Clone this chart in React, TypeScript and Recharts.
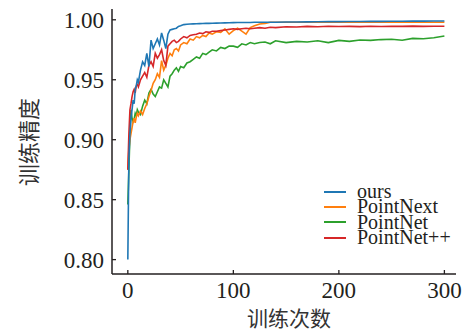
import { LineChart, Line, XAxis, YAxis } from "recharts";

const EPOCHS = [
  0, 1, 2, 3, 4, 5, 6, 7, 8, 9, 10, 12, 14, 16, 18, 20, 22, 24, 26, 28, 30, 32, 34, 36, 38, 40, 42, 44, 46, 48, 50,
  53, 56, 59, 62, 65, 68, 71, 74, 77, 80, 84, 88, 92, 96, 100, 104, 108, 112, 116, 120, 125, 130, 135, 140, 150,
  160, 170, 180, 190, 200, 210, 220, 230, 240, 250, 260, 270, 280, 290, 300,
];

const OURS = [
  0.8, 0.885, 0.905, 0.918, 0.925, 0.933, 0.93, 0.942, 0.945, 0.95, 0.948, 0.958, 0.965, 0.962, 0.972, 0.961, 0.983,
  0.976, 0.98, 0.984, 0.979, 0.989, 0.983, 0.976, 0.988, 0.9915, 0.992, 0.9925, 0.993, 0.9945, 0.995, 0.996, 0.9963,
  0.9965, 0.9966, 0.9967, 0.9968, 0.9969, 0.997, 0.997, 0.9971, 0.9972, 0.9973, 0.9974, 0.9975, 0.9976, 0.9977,
  0.9977, 0.9978, 0.9978, 0.9979, 0.9979, 0.998, 0.998, 0.998, 0.9981, 0.9982, 0.9983, 0.9984, 0.9985, 0.9985,
  0.9986, 0.9986, 0.9987, 0.9987, 0.9988, 0.9988, 0.9989, 0.9989, 0.999, 0.999,
];

const POINT_NEXT = [
  0.875, 0.892, 0.9, 0.905, 0.91, 0.915, 0.918, 0.914, 0.919, 0.922, 0.92, 0.924, 0.921, 0.926, 0.93, 0.936, 0.941,
  0.947, 0.95, 0.955, 0.952, 0.966, 0.958, 0.962, 0.968, 0.972, 0.97, 0.975, 0.976, 0.974, 0.979, 0.981, 0.98, 0.984,
  0.983, 0.986, 0.985, 0.987, 0.986, 0.989, 0.988, 0.99, 0.9895, 0.9925, 0.988, 0.991, 0.993, 0.9905, 0.988, 0.9935,
  0.995, 0.9965, 0.997, 0.998, 0.998, 0.998, 0.998, 0.998, 0.998, 0.998, 0.998, 0.998, 0.998, 0.998, 0.998, 0.998,
  0.998, 0.998, 0.998, 0.998, 0.998,
];

const POINT_NET = [
  0.846, 0.875, 0.905, 0.925, 0.918, 0.915, 0.917, 0.922, 0.92, 0.925, 0.923, 0.921, 0.928, 0.933, 0.93, 0.939, 0.942,
  0.938, 0.936, 0.94, 0.944, 0.943, 0.95, 0.947, 0.944, 0.953, 0.955, 0.958, 0.96, 0.957, 0.961, 0.96, 0.964, 0.965,
  0.967, 0.969, 0.968, 0.972, 0.971, 0.973, 0.975, 0.974, 0.977, 0.976, 0.978, 0.978, 0.977, 0.98, 0.979, 0.981, 0.98,
  0.981, 0.9815, 0.98, 0.9825, 0.981, 0.982, 0.9815, 0.9825, 0.981, 0.9828, 0.982, 0.9832, 0.9828, 0.9835, 0.9838,
  0.983, 0.9845, 0.9842, 0.985, 0.9865,
];

const POINT_NET_PP = [
  0.875, 0.905, 0.925, 0.93, 0.936, 0.94, 0.942, 0.939, 0.945, 0.946, 0.944, 0.95, 0.953, 0.956, 0.952, 0.962, 0.965,
  0.961, 0.972, 0.968, 0.971, 0.975, 0.966, 0.962, 0.978, 0.98, 0.982, 0.983, 0.981, 0.982, 0.984, 0.986, 0.985, 0.987,
  0.9875, 0.988, 0.989, 0.9885, 0.99, 0.9895, 0.9905, 0.9905, 0.991, 0.9915, 0.992, 0.9925, 0.992, 0.9925, 0.993,
  0.9925, 0.993, 0.9935, 0.993, 0.9938, 0.9935, 0.9942, 0.994, 0.9945, 0.9942, 0.9946, 0.9944, 0.9945, 0.9943, 0.9946,
  0.9944, 0.9946, 0.9945, 0.9947, 0.9945, 0.9946, 0.9946,
];

const X_TICKS = [0, 100, 200, 300];
const Y_TICKS = [0.8, 0.85, 0.9, 0.95, 1.0];

const SERIES = [
  { key: "ours", name: "ours", color: "#1f77b4" },
  { key: "next", name: "PointNext", color: "#ff7f0e" },
  { key: "net", name: "PointNet", color: "#2ca02c" },
  { key: "netpp", name: "PointNet++", color: "#d62728" },
];

const data = EPOCHS.map((e, i) => ({
  epoch: e,
  ours: OURS[i],
  next: POINT_NEXT[i],
  net: POINT_NET[i],
  netpp: POINT_NET_PP[i],
}));

const INK = "#231f20";
const SERIF = "'Liberation Serif', 'DejaVu Serif', serif";
const CJK = "'Noto Sans CJK SC', sans-serif";

function XTick({ x, y, payload }: any) {
  return (
    <g>
      <line x1={x} x2={x} y1={y} y2={y - 4} stroke={INK} strokeWidth={1.3} />
      <text x={x} y={y + 24} textAnchor="middle" fontFamily={SERIF} fontSize={23} fill={INK}>
        {payload.value}
      </text>
    </g>
  );
}

function YTick({ x, y, payload }: any) {
  return (
    <g>
      <line x1={x} x2={x + 4} y1={y} y2={y} stroke={INK} strokeWidth={1.3} />
      <text x={x - 8} y={y} dy="0.35em" textAnchor="end" fontFamily={SERIF} fontSize={23} fill={INK}>
        {Number(payload.value).toFixed(2)}
      </text>
    </g>
  );
}

export default function App() {
  return (
    <div style={{ position: "relative", width: 465, height: 331, background: "#fff" }}>
      <style>{`body { margin: 0; }`}</style>
      <LineChart width={465} height={331} data={data} margin={{ top: 9, right: 9, left: 0, bottom: 0 }}>
        <XAxis
          dataKey="epoch"
          type="number"
          domain={[-15, 311]}
          ticks={X_TICKS}
          height={57}
          tickSize={0}
          tickMargin={0}
          tickLine={false}
          axisLine={{ stroke: INK, strokeWidth: 1.5 }}
          tick={<XTick />}
          interval={0}
        />
        <XAxis
          xAxisId="top"
          orientation="top"
          type="number"
          domain={[-15, 311]}
          height={0}
          tick={false}
          tickLine={false}
          axisLine={{ stroke: INK, strokeWidth: 1.5 }}
        />
        <YAxis
          type="number"
          domain={[0.788, 1.009]}
          ticks={Y_TICKS}
          width={112}
          tickSize={0}
          tickMargin={0}
          tickLine={false}
          axisLine={{ stroke: INK, strokeWidth: 1.5 }}
          tick={<YTick />}
          interval={0}
        />
        <YAxis
          yAxisId="right"
          orientation="right"
          type="number"
          domain={[0.788, 1.009]}
          width={0}
          tick={false}
          tickLine={false}
          axisLine={{ stroke: INK, strokeWidth: 1.5 }}
        />
        <Line dataKey="net" name="PointNet" stroke="#2ca02c" strokeWidth={1.6} dot={false} isAnimationActive={false} />
        <Line dataKey="next" name="PointNext" stroke="#ff7f0e" strokeWidth={1.6} dot={false} isAnimationActive={false} />
        <Line dataKey="netpp" name="PointNet++" stroke="#d62728" strokeWidth={1.6} dot={false} isAnimationActive={false} />
        <Line dataKey="ours" name="ours" stroke="#1f77b4" strokeWidth={1.6} dot={false} isAnimationActive={false} />
      </LineChart>
      <div
        style={{
          position: "absolute",
          left: 324,
          top: 184,
          fontFamily: SERIF,
          fontSize: 20,
          color: INK,
          lineHeight: "15.3px",
        }}
      >
        {SERIES.map((s) => (
          <div key={s.key} style={{ display: "flex", alignItems: "center", height: 15.3, whiteSpace: "nowrap" }}>
            <span style={{ display: "inline-block", width: 22, height: 2, background: s.color, marginRight: 11 }} />
            <span>{s.name}</span>
          </div>
        ))}
      </div>
      <div
        style={{
          position: "absolute",
          left: 289,
          top: 306,
          transform: "translateX(-50%)",
          fontFamily: CJK,
          fontSize: 21,
          color: "#333",
          whiteSpace: "nowrap",
          lineHeight: "22px",
        }}
      >
        训练次数
      </div>
      <div
        style={{
          position: "absolute",
          left: 27,
          top: 142,
          transform: "translate(-50%, -50%) rotate(-90deg)",
          fontFamily: CJK,
          fontSize: 22,
          color: "#333",
          whiteSpace: "nowrap",
          lineHeight: "24px",
        }}
      >
        训练精度
      </div>
    </div>
  );
}
